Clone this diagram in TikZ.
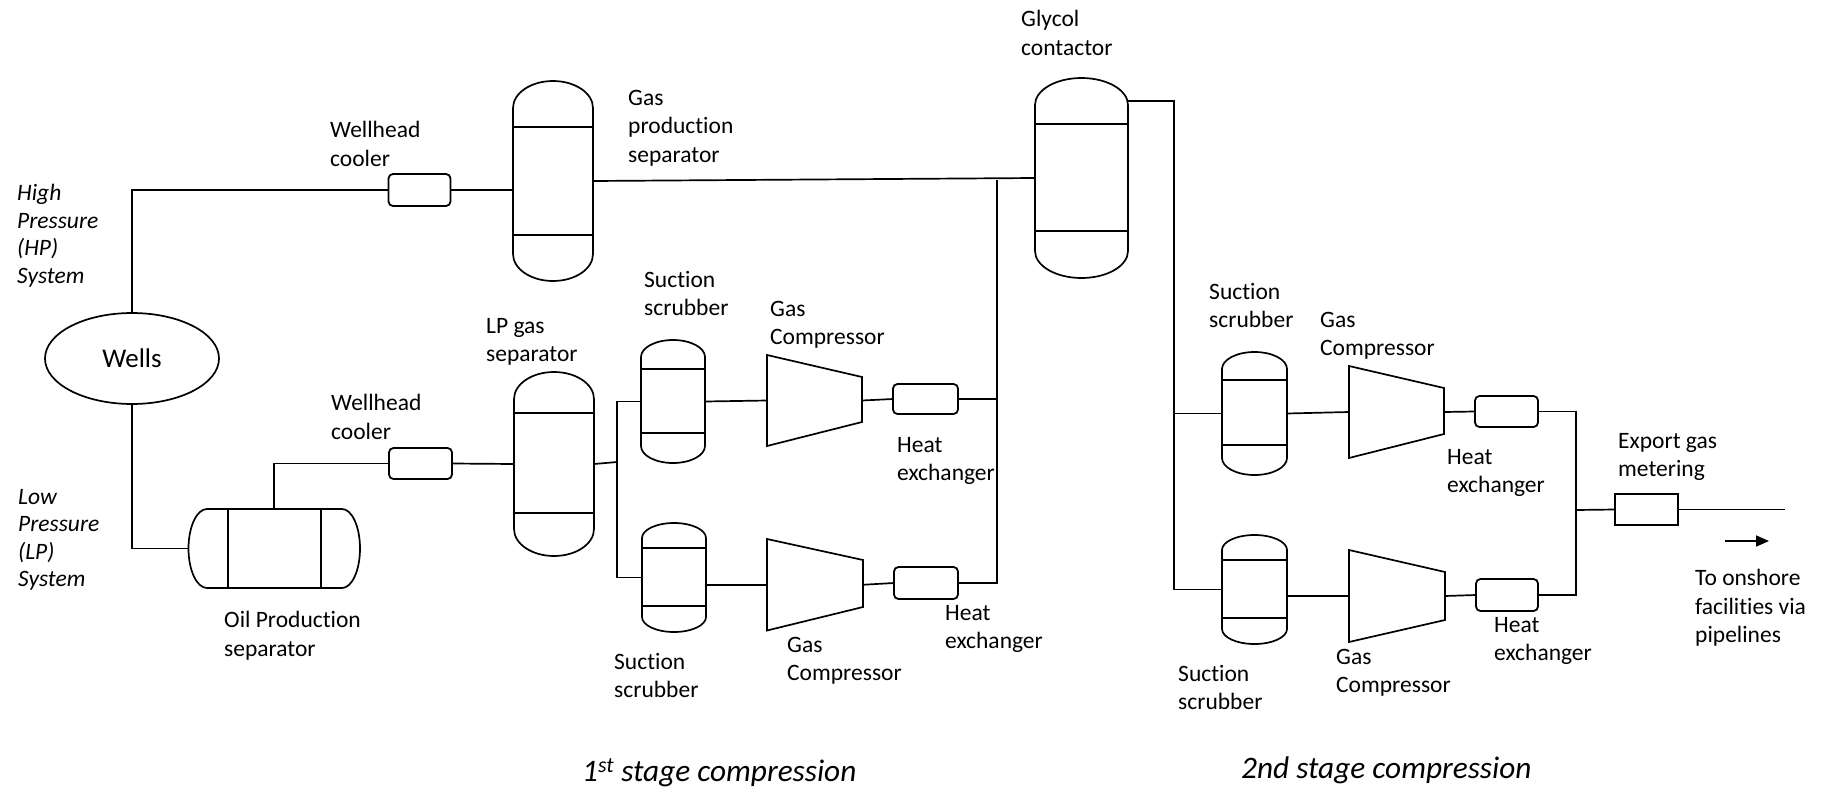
\documentclass[tikz,border=0pt]{standalone}
\usepackage{fontspec}
\setmainfont[Ligatures=NoCommon]{Carlito}
\usetikzlibrary{shapes.geometric,arrows.meta,calc}
\tikzset{
  pipe/.style={line width=1.7pt,draw=black,line join=miter},
  lab/.style={anchor=north west,inner sep=0pt,align=left,yshift=-2pt,font=\fontsize{23.5}{28.5}\selectfont},
  ilab/.style={anchor=north west,inner sep=0pt,align=left,yshift=-1pt,font=\fontsize{23.5}{27.5}\selectfont\itshape},
  stagelab/.style={anchor=west,inner sep=0pt,font=\fontsize{31.3}{36}\selectfont\itshape},
  refbox/.style={rectangle,inner sep=0pt,outer sep=0pt,draw=none},
  hxbox/.style={rectangle,draw=black,line width=1.8pt,rounded corners=4.5pt,inner sep=0pt,outer sep=0pt,fill=white},
  meterbox/.style={rectangle,draw=black,line width=1.8pt,inner sep=0pt,outer sep=0pt,fill=white},
  wellnode/.style={ellipse,draw=black,line width=1.7pt,inner sep=0pt,outer sep=0pt,font=\fontsize{27}{30}\selectfont},
}
% name, x1, x2, top, band1, band2, bottom, dome height
\newcommand{\vesselv}[8]{%
  \pgfmathsetmacro{\vw}{#3-#2}\pgfmathsetmacro{\vh}{#7-#4}%
  \pgfmathsetmacro{\vcx}{(#2+#3)/2}\pgfmathsetmacro{\vcy}{(#4+#7)/2}%
  \pgfmathsetmacro{\vr}{(#3-#2)/2}\pgfmathsetmacro{\vt}{#4+#8}\pgfmathsetmacro{\vb}{#7-#8}%
  \node[refbox,minimum width=\vw pt,minimum height=\vh pt] (#1) at (\vcx,\vcy) {};
  \draw[pipe,fill=white] (#2,\vt) arc[start angle=180,end angle=0,x radius=\vr pt,y radius=#8 pt]
     -- (#3,\vb) arc[start angle=0,end angle=-180,x radius=\vr pt,y radius=#8 pt] -- cycle;
  \draw[pipe] (#2,#5) -- (#3,#5) (#2,#6) -- (#3,#6);
}
% name, xleft, xright, lefttop, leftbottom, righttop, rightbottom
\newcommand{\compr}[7]{%
  \pgfmathsetmacro{\vw}{#3-#2}\pgfmathsetmacro{\vh}{#5-#4}%
  \pgfmathsetmacro{\vcx}{(#2+#3)/2}\pgfmathsetmacro{\vcy}{(#4+#5)/2}%
  \node[refbox,minimum width=\vw pt,minimum height=\vh pt] (#1) at (\vcx,\vcy) {};
  \draw[pipe,fill=white] (#2,#4) -- (#3,#6) -- (#3,#7) -- (#2,#5) -- cycle;
}
% name, x1, x2, y1, y2, style
\newcommand{\boxat}[6]{%
  \pgfmathsetmacro{\vw}{#3-#2}\pgfmathsetmacro{\vh}{#5-#4}%
  \pgfmathsetmacro{\vcx}{(#2+#3)/2}\pgfmathsetmacro{\vcy}{(#4+#5)/2}%
  \node[#6,minimum width=\vw pt,minimum height=\vh pt] (#1) at (\vcx,\vcy) {};
}
\begin{document}
\begin{tikzpicture}[x=1pt,y=-1pt]
\useasboundingbox (0,0) rectangle (1826,790);
\fill[white] (0,0) rectangle (1826,790);

% equipment
\node[wellnode,minimum width=174pt,minimum height=91pt] (wells) at (132,358.5) {Wells};
\boxat{cool1}{388.5}{450.5}{174}{206}{hxbox}
\boxat{cool2}{389}{452}{448}{479}{hxbox}
\vesselv{gpsep}{513}{593}{81}{127}{235}{281}{27}
\vesselv{lpsep}{514}{594}{372}{413}{513}{556}{27}
\vesselv{glycol}{1035}{1128}{78}{124}{231}{278}{27}
\vesselv{scra}{641}{705}{340}{369}{433}{463}{17}
\vesselv{scrb}{642}{706}{523}{548}{606}{632}{15}
\vesselv{scrc}{1222}{1287}{352}{380}{445}{475}{17}
\vesselv{scrd}{1222}{1287}{535}{560}{618}{644}{15}
\compr{compa}{767}{862}{355}{446}{377}{422}
\compr{compb}{767}{863}{539}{630.5}{560}{607}
\compr{compc}{1349}{1444}{366}{458}{388}{434}
\compr{compd}{1349}{1445}{550}{642}{572}{620}
\boxat{hxa}{893}{958}{384}{414}{hxbox}
\boxat{hxb}{894}{958}{567}{599}{hxbox}
\boxat{hxc}{1475}{1538}{396}{427}{hxbox}
\boxat{hxd}{1476}{1538}{579}{611}{hxbox}
\boxat{meter}{1615}{1678}{494}{525}{meterbox}
% horizontal oil separator
\node[refbox,minimum width=171.5pt,minimum height=79pt] (osep) at (274.25,548.5) {};
\draw[pipe,fill=white] (207,509) arc[start angle=90,end angle=270,x radius=18.5pt,y radius=39.5pt]
   -- (342,588) arc[start angle=-90,end angle=90,x radius=18pt,y radius=39.5pt] -- cycle;
\draw[pipe] (228,509) -- (228,588) (321,509) -- (321,588);

% junctions and free ends
\coordinate (jlp) at (617,462);
\coordinate (jmain) at (997,180);
\coordinate (jgly) at (1174,101);
\coordinate (jexp) at (1576,510);
\coordinate (pipeend) at (1785,509.5);
\coordinate (arrowa) at (1725,541);
\coordinate (arrowb) at (1769,541);

% connectors
\draw[pipe] (wells.north) |- (cool1.west);
\draw[pipe] (cool1.east) -- (cool1.east -| gpsep.west);
\draw[pipe] (wells.south) |- (osep.west);
\draw[pipe] (osep.north) |- (cool2.west);
\draw[pipe] (cool2.east) -- (lpsep.west);
\draw[pipe] (gpsep.east) -- (glycol.west);
\draw[pipe] (lpsep.east) -- (jlp);
\draw[pipe] (scra.west) -| (jlp) |- (scrb.west);
\draw[pipe] (scra.east) -- (compa.west);
\draw[pipe] (compa.east) -- (hxa.west);
\draw[pipe] (hxa.east) -- (hxa.east -| jmain);
\draw[pipe] (compb.west -| scrb.east) -- (compb.west);
\draw[pipe] (compb.east) -- (hxb.west);
\draw[pipe] (hxb.east) -| (jmain);
\draw[pipe] (glycol.east |- jgly) -- (jgly) |- (scrd.west);
\draw[pipe] (jgly |- scrc.west) -- (scrc.west);
\draw[pipe] (scrc.east) -- (compc.west);
\draw[pipe] (compc.east) -- (hxc.west);
\draw[pipe] (hxc.east) -| (jexp);
\draw[pipe] (compd.west -| scrd.east) -- (compd.west);
\draw[pipe] (compd.east) -- (hxd.west);
\draw[pipe] (hxd.east) -| (jexp);
\draw[pipe] (jexp) -- (meter.west);
\draw[pipe] (meter.east) -- (pipeend);
\draw[pipe,-{Stealth[length=13pt,width=11pt,inset=0pt]}] (arrowa) -- (arrowb);

% labels
\node[ilab] (tHP) at (17,183) {High\\Pressure\\(HP)\\System};
\node[ilab] (tLP) at (18,488) {Low\\Pressure\\(LP)\\System};
\node[lab] (t1) at (330,119) {Wellhead\\cooler};
\node[lab] (t2) at (331,392) {Wellhead\\cooler};
\node[lab] (t3) at (628,88) {Gas\\production\\separator};
\node[lab] (t4) at (486,316) {LP gas\\separator};
\node[lab] (t5) at (224,609) {Oil Production\\separator};
\node[lab] (t6) at (644,269) {Suction\\scrubber};
\node[lab] (t7) at (770,299) {Gas\\Compressor};
\node[lab] (t8) at (897,435) {Heat\\exchanger};
\node[lab] (t9) at (945,603) {Heat\\exchanger};
\node[lab] (t10) at (787,635) {Gas\\Compressor};
\node[lab] (t11) at (614,651) {Suction\\scrubber};
\node[lab] (t12) at (1021,8) {Glycol\\contactor};
\node[lab] (t13) at (1209,281) {Suction\\scrubber};
\node[lab] (t14) at (1320,310) {Gas\\Compressor};
\node[lab] (t15) at (1447,447) {Heat\\exchanger};
\node[lab] (t16) at (1618,431) {Export gas\\metering};
\node[lab] (t17) at (1695,567) {To onshore\\facilities via\\pipelines};
\node[lab] (t18) at (1494,615) {Heat\\exchanger};
\node[lab] (t19) at (1336,647) {Gas\\Compressor};
\node[lab] (t20) at (1178,663) {Suction\\scrubber};
\node[stagelab] (s1) at (582,773) {1\textsuperscript{st} stage compression};
\node[stagelab] (s2) at (1241,770) {2nd stage compression};
\end{tikzpicture}
\end{document}
